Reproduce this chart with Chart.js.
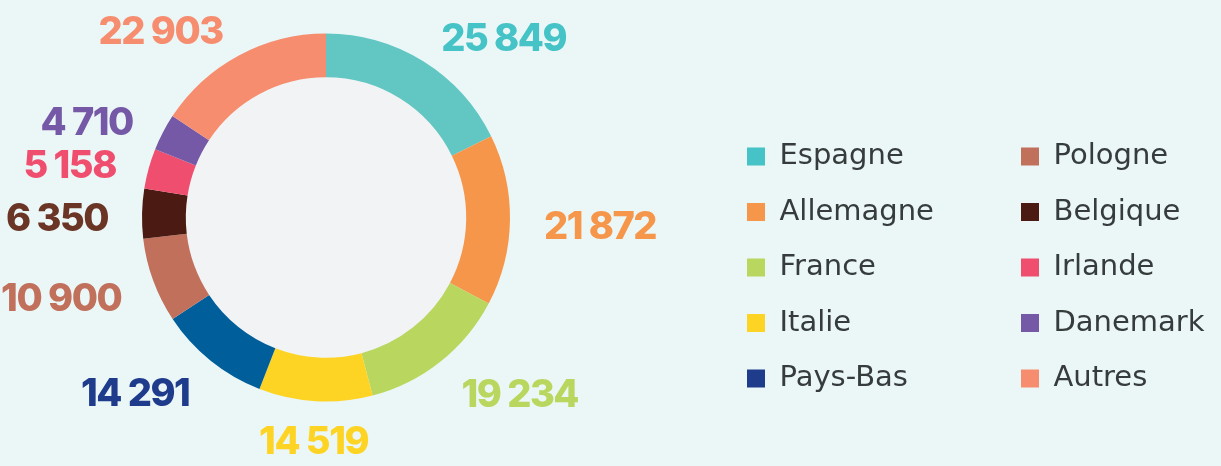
<!DOCTYPE html>
<html>
<head>
<meta charset="utf-8">
<script src="https://cdn.jsdelivr.net/npm/chart.js@4.4.1/dist/chart.umd.min.js"></script>
<style>
  html, body { margin: 0; padding: 0; background: #ebf7f7; }
  #wrap { width: 1221px; height: 466px; position: relative; }
</style>
</head>
<body>
<div id="wrap"><canvas id="c" width="1221" height="466"></canvas></div>
<script>
// ---- data ----
const categories = ['Espagne', 'Allemagne', 'France', 'Italie', 'Pays-Bas', 'Pologne', 'Belgique', 'Irlande', 'Danemark', 'Autres'];
const values = [25849, 21872, 19234, 14519, 14291, 10900, 6350, 5158, 4710, 22903];
const sliceColors = ['#62c6c3', '#f5964a', '#b9d65f', '#fed424', '#005e9a', '#c1705b', '#4b1a12', '#f04e6e', '#7559a6', '#f68d6f'];
const legendColors = ['#45c3c6', '#f5964a', '#b9d65f', '#fed424', '#1f3c8c', '#c1705b', '#4b1a12', '#f04e6e', '#7559a6', '#f68d6f'];
const labelColors = ['#45c3c6', '#f5964a', '#b9d65f', '#fed424', '#1f3c8c', '#c1705b', '#6b3526', '#f04e6e', '#7559a6', '#f68d6f'];

function fmt(v) {
  return String(v).replace(/\B(?=(\d{3})+(?!\d))/g, ' ');
}

const innerFill = {
  id: 'innerFill',
  beforeDatasetsDraw(chart) {
    const arc = chart.getDatasetMeta(0).data[0];
    if (!arc) return;
    const { x, y, innerRadius } = arc.getProps(['x', 'y', 'innerRadius'], true);
    const ctx = chart.ctx;
    ctx.save();
    ctx.beginPath();
    ctx.arc(x, y, innerRadius + 1, 0, Math.PI * 2);
    ctx.fillStyle = '#f2f3f5';
    ctx.fill();
    ctx.restore();
  }
};

const valueLabels = {
  id: 'valueLabels',
  afterDatasetsDraw(chart) {
    const ctx = chart.ctx;
    const meta = chart.getDatasetMeta(0);
    ctx.save();
    ctx.font = '800 38px Inter, "DejaVu Sans", sans-serif';
    if ('letterSpacing' in ctx) ctx.letterSpacing = '-1.5px';
    ctx.textBaseline = 'middle';
    meta.data.forEach((arc, i) => {
      const p = arc.getProps(['x', 'y', 'startAngle', 'endAngle', 'outerRadius'], true);
      const mid = (p.startAngle + p.endAngle) / 2;
      const d = p.outerRadius + 34;
      const c = Math.cos(mid), s = Math.sin(mid);
      const px = p.x + c * d;
      const py = p.y + s * d + 7;
      ctx.textAlign = c > 0.2 ? 'left' : (c < -0.2 ? 'right' : 'center');
      ctx.fillStyle = labelColors[i];
      ctx.fillText(fmt(values[i]), px, py);
    });
    ctx.restore();
  }
};

// place the legend block to the right of the chart area, two columns
const legendPlacement = {
  id: 'legendPlacement',
  afterLayout(chart) {
    const lg = chart.legend;
    if (!lg) return;
    lg.left = 720.5;
    lg.right = chart.width;
    lg.width = lg.right - lg.left;
    if (lg.columnSizes && lg.columnSizes.length > 1) {
      lg.columnSizes[0].width = 247.5;
    }
  }
};

new Chart(document.getElementById('c'), {
  type: 'doughnut',
  data: {
    labels: categories,
    datasets: [{
      data: values,
      backgroundColor: sliceColors,
      borderWidth: 0,
      radius: 184,
      cutout: '76.2%'
    }]
  },
  options: {
    responsive: false,
    animation: false,
    events: [],
    layout: { padding: { left: 0, right: 269, top: 0, bottom: 31 } },
    plugins: {
      tooltip: { enabled: false },
      legend: {
        position: 'right',
        align: 'start',
        maxWidth: 300,
        title: { display: true, text: ' ', font: { size: 12, lineHeight: 1.2 }, padding: { top: 101.1, bottom: 0 } },
        labels: {
          boxWidth: 18,
          boxHeight: 18,
          padding: 26.5,
          color: '#363b3b',
          font: { family: '"DejaVu Sans", sans-serif', size: 29 },
          generateLabels(chart) {
            return categories.map((name, i) => ({
              text: name,
              fillStyle: legendColors[i],
              strokeStyle: legendColors[i],
              lineWidth: 0,
              fontColor: '#363b3b',
              hidden: false,
              index: i
            }));
          }
        }
      }
    }
  },
  plugins: [innerFill, valueLabels, legendPlacement]
});
</script>
</body>
</html>
